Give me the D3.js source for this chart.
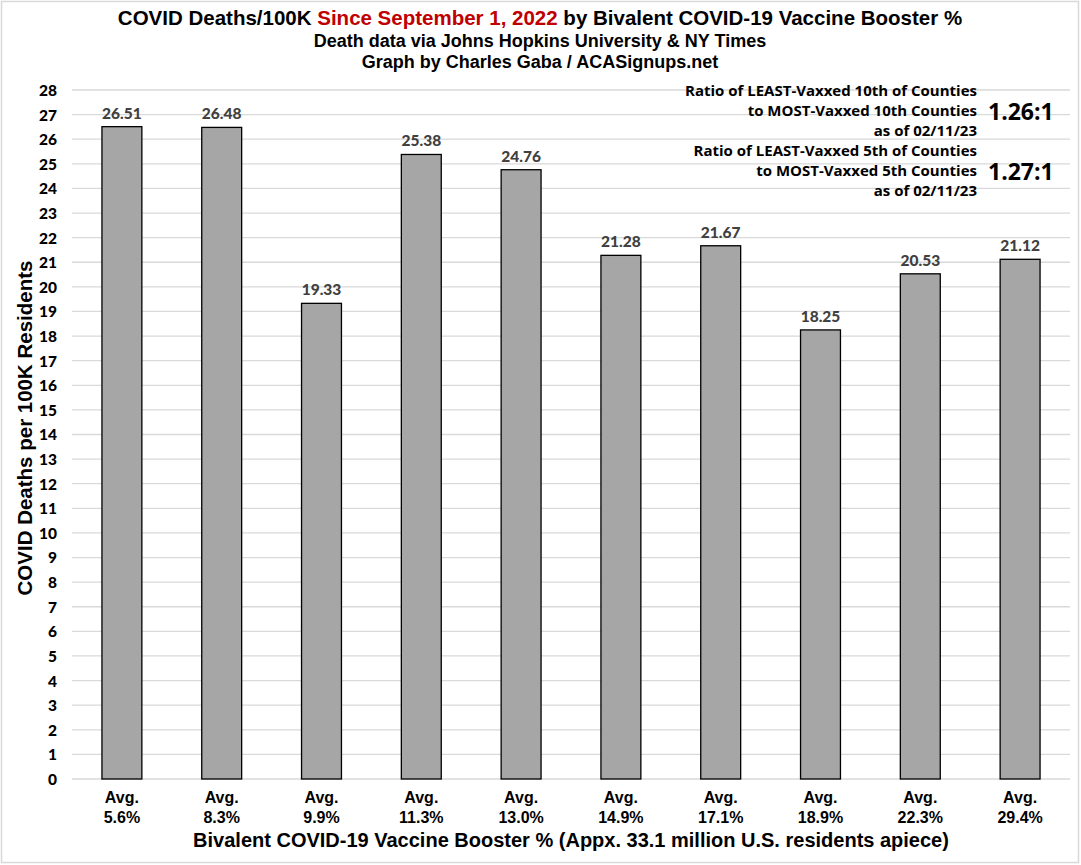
<!DOCTYPE html>
<html>
<head>
<meta charset="utf-8">
<script src="https://cdn.jsdelivr.net/npm/d3@7"></script>
<style>
  html,body{margin:0;padding:0;background:#fff;}
  svg{display:block;}
</style>
</head>
<body>
<svg id="chart" width="1081" height="865"></svg>
<script>
const categories = ["5.6%","8.3%","9.9%","11.3%","13.0%","14.9%","17.1%","18.9%","22.3%","29.4%"];
const values = [26.51,26.48,19.33,25.38,24.76,21.28,21.67,18.25,20.53,21.12];
const yTicks = d3.range(0,29,1);
const titleParts = [
  {text:"COVID Deaths/100K ", color:"#000"},
  {text:"Since September 1, 2022", color:"#c00000"},
  {text:" by Bivalent COVID-19 Vaccine Booster %", color:"#000"}
];
const subtitles = ["Death data via Johns Hopkins University & NY Times","Graph by Charles Gaba / ACASignups.net"];
const annotations = [
  {lines:["Ratio of LEAST-Vaxxed 10th of Counties","to MOST-Vaxxed 10th Counties","as of 02/11/23"], ratio:"1.26:1"},
  {lines:["Ratio of LEAST-Vaxxed 5th of Counties","to MOST-Vaxxed 5th Counties","as of 02/11/23"], ratio:"1.27:1"}
];
const xTitle = "Bivalent COVID-19 Vaccine Booster % (Appx. 33.1 million U.S. residents apiece)";
const yTitle = "COVID Deaths per 100K Residents";

const svg = d3.select("#chart");
const W = 1081, H = 865;
const m = {left:72, right:1070, top:90, bottom:779};

svg.append("rect").attr("x",1.5).attr("y",1.5).attr("width",W-4).attr("height",H-4)
  .attr("fill","#fff").attr("stroke","#d9d9d9").attr("stroke-width",1.5);

const x = d3.scaleBand().domain(categories).range([m.left, m.right]).paddingInner(0.6).paddingOuter(0.3);
const y = d3.scaleLinear().domain([0,28]).range([m.bottom, m.top]);

// gridlines
svg.append("g").selectAll("line").data(yTicks).join("line")
  .attr("x1", m.left).attr("x2", m.right)
  .attr("y1", d=>y(d)).attr("y2", d=>y(d))
  .attr("stroke","#d9d9d9").attr("stroke-width",1.3);

// y axis labels
const yAxis = d3.axisLeft(y).tickValues(yTicks).tickSize(0).tickPadding(0);
const yg = svg.append("g").attr("transform",`translate(57,0)`).call(yAxis);
yg.select(".domain").remove();
yg.selectAll("text").attr("font-family","Lato, 'Open Sans', sans-serif").attr("font-weight","900")
  .attr("font-size","15.5px").attr("fill","#000").attr("dy","0.35em");

// bars
svg.append("g").selectAll("rect").data(values).join("rect")
  .attr("x",(d,i)=>x(categories[i])).attr("width",x.bandwidth())
  .attr("y",d=>y(d)).attr("height",d=>y(0)-y(d))
  .attr("fill","#a6a6a6").attr("stroke","#000").attr("stroke-width",1.3);

// value labels
svg.append("g").selectAll("text").data(values).join("text")
  .attr("x",(d,i)=>x(categories[i])+x.bandwidth()/2).attr("y",d=>y(d)-8)
  .attr("text-anchor","middle").attr("font-family","Lato, 'Open Sans', sans-serif")
  .attr("font-weight","900").attr("font-size","15.5px").attr("fill","#404040")
  .text(d=>d.toFixed(2));

// x labels
const xg = svg.append("g");
categories.forEach(c=>{
  const cx = x(c)+x.bandwidth()/2;
  const t = xg.append("text").attr("text-anchor","middle")
    .attr("font-family","'Liberation Sans', Arial, sans-serif").attr("font-weight","bold")
    .attr("font-size","16px").attr("fill","#000");
  t.append("tspan").attr("x",cx).attr("y",803).text("Avg.");
  t.append("tspan").attr("x",cx).attr("y",823).text(c);
});

// axis titles
svg.append("text").attr("x",571).attr("y",847).attr("text-anchor","middle")
  .attr("font-family","'Liberation Sans', Arial, sans-serif").attr("font-weight","bold")
  .attr("font-size","20px").attr("fill","#000").text(xTitle);
svg.append("text").attr("transform",`translate(32,428) rotate(-90)`)
  .attr("text-anchor","middle")
  .attr("font-family","'Liberation Sans', Arial, sans-serif").attr("font-weight","bold")
  .attr("font-size","20.5px").attr("fill","#000").text(yTitle);

// title
const tt = svg.append("text").attr("x",540).attr("y",25).attr("text-anchor","middle")
  .attr("font-family","'Liberation Sans', Arial, sans-serif").attr("font-weight","bold")
  .attr("font-size","20.5px");
titleParts.forEach(p=>tt.append("tspan").attr("fill",p.color).text(p.text));
subtitles.forEach((s,i)=>{
  svg.append("text").attr("x",540).attr("y",47+i*21).attr("text-anchor","middle")
    .attr("font-family","'Liberation Sans', Arial, sans-serif").attr("font-weight","bold")
    .attr("font-size","18px").attr("fill","#000").text(s);
});

// annotations
annotations.forEach((a,j)=>{
  const base = 96 + j*60;
  a.lines.forEach((l,i)=>{
    svg.append("text").attr("x",977).attr("y",base+i*20).attr("text-anchor","end")
      .attr("font-family","'Open Sans', Lato, sans-serif").attr("font-weight","bold")
      .attr("font-size","15px").attr("fill","#000").text(l);
  });
  svg.append("text").attr("x",988).attr("y",base+24).attr("text-anchor","start")
    .attr("font-family","'Open Sans', Lato, sans-serif").attr("font-weight","bold")
    .attr("font-size","23px").attr("fill","#000").text(a.ratio);
});
</script>
</body>
</html>
